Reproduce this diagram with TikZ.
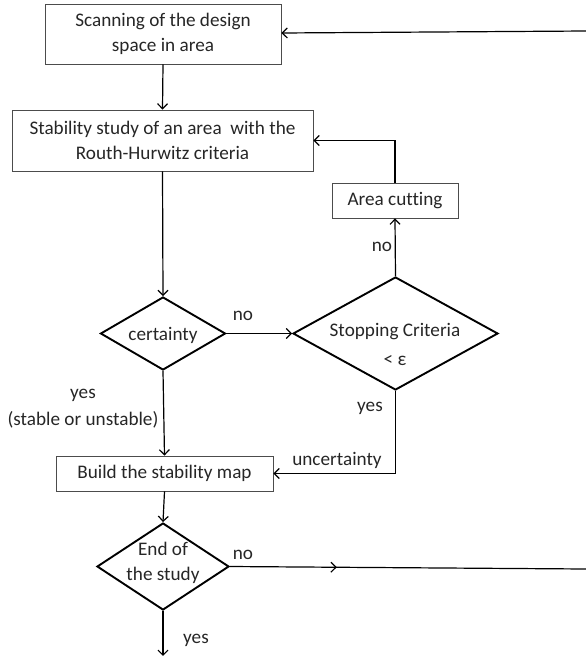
\documentclass[tikz,border=0pt]{standalone}
\usepackage{fontspec}
\setmainfont[Ligatures=CommonOff]{Carlito}
\usetikzlibrary{shapes.geometric,arrows.meta,decorations.markings}
\begin{document}
\begin{tikzpicture}[x=1pt,y=-1pt,
  font=\fontsize{19.2}{25}\selectfont,
  box/.style={draw=black!70,line width=0.9pt,rectangle,inner sep=0pt,align=center,text=black!85},
  dec/.style={draw=black,line width=1.9pt,diamond,inner sep=0pt},
  lbl/.style={inner sep=0pt,text=black!85,align=center},
  conn/.style={draw=black,line width=1.2pt,-{Straight Barb[length=5pt,width=10pt]}},
  plain/.style={draw=black,line width=1.2pt}
]
\useasboundingbox (0,0) rectangle (586,659);
% boxes
\node[box,minimum width=236pt,minimum height=60pt] (scan) at (163,34) {Scanning of the design\\space in area};
\node[box,minimum width=301pt,minimum height=61pt] (stab) at (162.5,140.5) {Stability study of an area\ \ with the\\Routh-Hurwitz criteria};
\node[box,minimum width=126pt,minimum height=35pt] (cut) at (395,200.5) {Area cutting};
\node[box,minimum width=217pt,minimum height=35pt] (map) at (164.5,473.5) {Build the stability map};
% diamonds
\node[dec,minimum width=125pt,minimum height=73pt] (cert) at (163,333.5) {};
\node[lbl] (certt) at (163,335) {certainty};
\node[dec,minimum width=205pt,minimum height=113pt] (stop) at (395.5,333.5) {};
\node[lbl] (stopt1) at (395,332) {Stopping Criteria};
\node[lbl] (stopt2) at (395,361) {< ε};
\node[dec,minimum width=132pt,minimum height=87pt] (endd) at (163,566.5) {};
\node[lbl] (endt) at (163,562.5) {End of\\the study};
% free ends at the right edge
\coordinate (rtop) at (586,31);
\coordinate (rbot) at (586,569);
% connectors
\draw[conn] (rtop) -- (scan.east |- 0,33);
\draw[conn] (scan.south) -- (stab.north);
\draw[conn] (cut.north) |- (stab.east);
\draw[conn] (stab.south) -- (cert.north);
\draw[conn] (cert.east) -- (stop.west);
\draw[conn] (stop.north) -- (cut.south);
\draw[conn] (stop.south) |- (map.east);
\draw[conn] (cert.south) -- (map.north);
\draw[conn] (map.south) -- (endd.north);
\draw[plain,postaction={decorate},decoration={markings,mark=at position 0.3 with {\arrow{Straight Barb[length=5pt,width=10pt]}}}] (endd.east) -- (rbot);
\draw[conn] (endd.south) -- ++(0,45) coordinate (bend);
% labels
\node[lbl] (l1) at (243,316) {no};
\node[lbl] (l2) at (382,247) {no};
\node[lbl] (l3) at (83,395) {yes};
\node[lbl] (l4) at (83,420) {(stable or unstable)};
\node[lbl] (l5) at (370,408) {yes};
\node[lbl] (l6) at (337,460) {uncertainty};
\node[lbl] (l7) at (243,555) {no};
\node[lbl] (l8) at (196,640) {yes};
\end{tikzpicture}
\end{document}
